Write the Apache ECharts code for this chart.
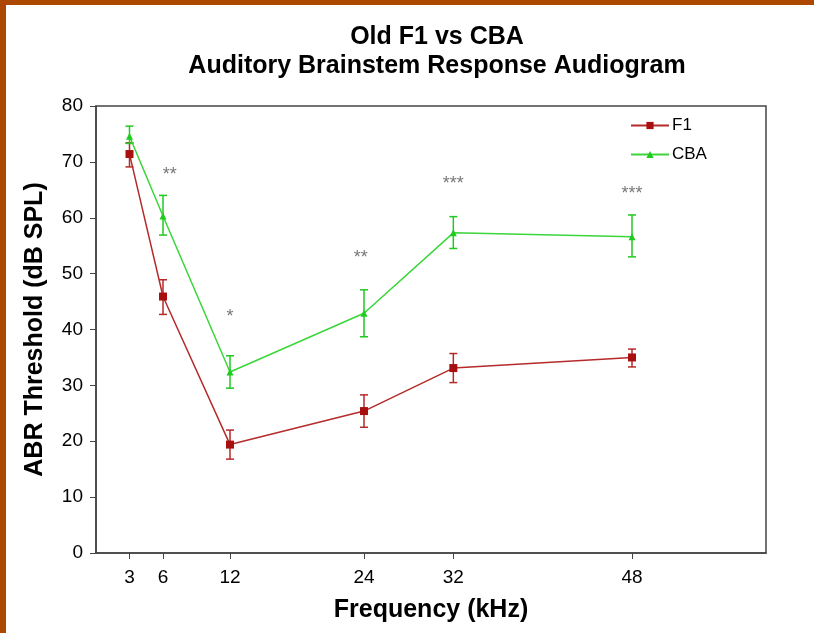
<!DOCTYPE html>
<html>
<head>
<meta charset="utf-8">
<script src="https://cdn.jsdelivr.net/npm/echarts@6/dist/echarts.min.js"></script>
<style>
  html, body { margin: 0; padding: 0; background: #fff; }
  #chart { width: 814px; height: 633px; }
</style>
</head>
<body>
<div id="chart"></div>
<script>
// frequencies (kHz)
var freqs = [3, 6, 12, 24, 32, 48];
// mean thresholds + error bar ends (dB SPL)
var f1Mean = [71.4, 45.9, 19.4, 25.4, 33.1, 35.0];
var f1Low  = [69.1, 42.7, 16.8, 22.5, 30.5, 33.3];
var f1High = [73.4, 48.9, 22.0, 28.3, 35.7, 36.5];
var cbaMean = [74.6, 60.3, 32.4, 42.9, 57.3, 56.6];
var cbaLow  = [73.3, 56.9, 29.5, 38.7, 54.5, 53.0];
var cbaHigh = [76.4, 64.0, 35.3, 47.1, 60.2, 60.5];
// significance marks
var sigX = [6.6, 12, 23.7, 32, 48];
var sigY = [67.6, 42.2, 52.8, 66.0, 64.2];
var sigText = ['**', '*', '**', '***', '***'];
var yTicks = [0, 10, 20, 30, 40, 50, 60, 70, 80];

var chart = echarts.init(document.getElementById('chart'));

function pairs(xs, ys) {
  return xs.map(function (x, i) { return [x, ys[i]]; });
}
function errData(lo, hi) {
  return freqs.map(function (x, i) { return [x, lo[i], hi[i]]; });
}
function errBars(color) {
  return function (params, api) {
    var top = api.coord([api.value(0), api.value(2)]);
    var bot = api.coord([api.value(0), api.value(1)]);
    var w = 4;
    var st = { stroke: color, lineWidth: 1.5 };
    return {
      type: 'group',
      children: [
        { type: 'line', shape: { x1: top[0], y1: top[1], x2: bot[0], y2: bot[1] }, style: st },
        { type: 'line', shape: { x1: top[0] - w, y1: top[1], x2: top[0] + w, y2: top[1] }, style: st },
        { type: 'line', shape: { x1: bot[0] - w, y1: bot[1], x2: bot[0] + w, y2: bot[1] }, style: st }
      ]
    };
  };
}

var red = '#a80f0f';
var green = '#1ecc1e';
var font = 'Liberation Sans, Arial, sans-serif';

var option = {
  backgroundColor: '#fff',
  animation: false,
  graphic: [
    { type: 'rect', left: 0, top: 0, shape: { width: 814, height: 5 }, style: { fill: '#ad4800' } },
    { type: 'rect', left: 0, top: 0, shape: { width: 6, height: 633 }, style: { fill: '#ad4800' } }
  ],
  title: {
    text: 'Old F1 vs CBA\nAuditory Brainstem Response Audiogram',
    left: 432,
    top: 18,
    textAlign: 'center',
    textStyle: { fontFamily: font, fontSize: 25, fontWeight: 'bold', color: '#000', lineHeight: 29 }
  },
  legend: {
    orient: 'vertical',
    left: 625,
    top: 112,
    itemWidth: 38,
    itemHeight: 9,
    itemGap: 12,
    data: ['F1', 'CBA'],
    textStyle: { fontFamily: font, fontSize: 17, color: '#000', padding: [0, 0, 0, -2] }
  },
  grid: {
    left: 96, right: 48, top: 106, bottom: 80,
    show: true, borderColor: '#444', borderWidth: 1.5
  },
  xAxis: {
    type: 'value',
    min: 0, max: 60,
    name: 'Frequency (kHz)',
    nameLocation: 'middle',
    nameGap: 45,
    nameTextStyle: { fontFamily: font, fontSize: 25, fontWeight: 'bold', color: '#000' },
    splitLine: { show: false },
    axisLine: { lineStyle: { color: '#444', width: 1.5 } },
    axisTick: { show: true, customValues: freqs, length: 6, lineStyle: { color: '#444' } },
    axisLabel: { customValues: freqs, fontFamily: font, fontSize: 19, color: '#000', margin: 15 }
  },
  yAxis: {
    type: 'value',
    min: 0, max: 80, interval: 10,
    name: 'ABR Threshold (dB SPL)',
    nameLocation: 'middle',
    nameGap: 48,
    nameTextStyle: { fontFamily: font, fontSize: 25, fontWeight: 'bold', color: '#000' },
    splitLine: { show: false },
    axisLine: { show: true, lineStyle: { color: '#444', width: 1.5 } },
    axisTick: { show: true, length: 6, lineStyle: { color: '#444' } },
    axisLabel: { customValues: yTicks, fontFamily: font, fontSize: 19, color: '#000', margin: 13 }
  },
  series: [
    {
      name: 'F1', type: 'line', data: pairs(freqs, f1Mean),
      symbol: 'rect', symbolSize: 8,
      lineStyle: { color: '#b52a2a', width: 1.5 },
      itemStyle: { color: red },
      z: 3
    },
    {
      name: 'CBA', type: 'line', data: pairs(freqs, cbaMean),
      symbol: 'triangle', symbolSize: 7,
      lineStyle: { color: '#3ad63a', width: 1.5 },
      itemStyle: { color: green },
      z: 3
    },
    {
      type: 'custom', name: 'F1 err', data: errData(f1Low, f1High),
      renderItem: errBars('#b52a2a'), encode: { x: 0, y: [1, 2] }, z: 2, silent: true
    },
    {
      type: 'custom', name: 'CBA err', data: errData(cbaLow, cbaHigh),
      renderItem: errBars('#22c822'), encode: { x: 0, y: [1, 2] }, z: 2, silent: true
    },
    {
      type: 'scatter', name: 'sig', data: pairs(sigX, sigY),
      symbolSize: 0, silent: true,
      label: {
        show: true, position: 'inside',
        formatter: function (p) { return sigText[p.dataIndex]; },
        fontFamily: font, fontSize: 18, color: '#555'
      }
    }
  ]
};
chart.setOption(option);
</script>
</body>
</html>
